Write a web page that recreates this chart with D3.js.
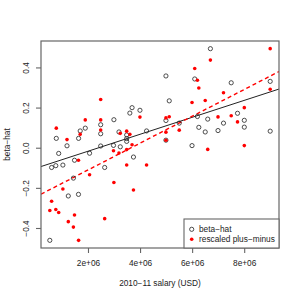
<!DOCTYPE html>
<html><head><meta charset="utf-8">
<script src="https://cdn.jsdelivr.net/npm/d3@7"></script>
<style>body{margin:0;background:#fff}svg{display:block}text{font-family:"Liberation Sans",Arial,sans-serif;fill:#222}</style>
</head><body><svg id="c" width="300" height="300"></svg>
<script>
// salary in millions USD
const salary = [0.534,0.603,0.764,0.783,0.875,1.036,1.194,1.244,1.440,1.482,1.635,1.639,1.701,1.896,2.061,2.488,2.488,2.488,2.641,2.980,2.995,3.190,3.240,3.486,3.486,3.486,3.608,3.693,3.747,3.996,4.250,4.994,4.994,4.994,5.121,5.505,5.996,6.100,6.203,6.257,6.503,6.599,6.702,6.994,7.205,7.501,7.743,8.004,8.004,8.998,8.998];
const betaHat = [-0.459,-0.096,-0.087,0.049,-0.026,-0.084,0.012,-0.238,-0.149,-0.060,-0.230,0.049,0.086,0.100,-0.025,0.117,0.072,0.011,-0.096,0.014,0.142,0.081,0.007,0.066,0.048,0.034,0.175,0.202,-0.044,0.189,0.086,0.360,0.138,0.040,0.236,0.125,0.013,0.345,0.158,0.104,0.081,0.145,0.496,0.088,0.125,0.326,0.174,0.139,0.105,0.333,0.085];
const plusMinus = [-0.310,-0.264,-0.305,0.100,-0.320,-0.203,0.043,-0.366,-0.393,-0.333,-0.060,-0.459,0.069,0.141,-0.132,0.243,0.141,0.091,-0.351,-0.013,-0.171,-0.024,0.074,0.085,-0.007,-0.084,0.069,0.017,-0.208,0.155,-0.084,0.151,0.080,0.040,0.157,0.090,0.228,0.397,0.339,0.300,0.238,-0.006,0.439,0.156,0.276,0.162,0.131,0.202,0.013,0.496,0.294];
const xTicks = [2e6,4e6,6e6,8e6];
const xTickLabels = ["2e+06","4e+06","6e+06","8e+06"];
const yTicks = [-0.4,-0.2,0,0.2,0.4];
const yTickLabels = ["\u22120.4","\u22120.2","0.0","0.2","0.4"];
const seriesNames = ["beta\u2212hat","rescaled plus\u2212minus"];

const svg = d3.select("#c");
const L=41,R=279,T=41,B=248;
const xs = salary.map(d=>d*1e6);
function pad(ext){const s=ext[1]-ext[0];return [ext[0]-0.04*s,ext[1]+0.04*s];}
const x = d3.scaleLinear().domain(pad(d3.extent(xs))).range([L,R]);
const yAll = betaHat.concat(plusMinus);
const y = d3.scaleLinear().domain(pad(d3.extent(yAll))).range([B,T]);

function fit(xv,yv){const mx=d3.mean(xv),my=d3.mean(yv);let sxy=0,sxx=0;xv.forEach((v,i)=>{sxy+=(v-mx)*(yv[i]-my);sxx+=(v-mx)*(v-mx);});const b=sxy/sxx;return {a:my-b*mx,b};}
const defs = svg.append("defs");
defs.append("clipPath").attr("id","clip").append("rect").attr("x",L).attr("y",T).attr("width",R-L).attr("height",B-T);
const g = svg.append("g").attr("clip-path","url(#clip)");
const x0=x.domain()[0],x1=x.domain()[1];
const f1=fit(xs,betaHat), f2=fit(xs,plusMinus);
g.append("line").attr("x1",x(x0)).attr("x2",x(x1)).attr("y1",y(f1.a+f1.b*x0)).attr("y2",y(f1.a+f1.b*x1)).attr("stroke","#222").attr("stroke-width",1);
g.append("line").attr("x1",x(x0)).attr("x2",x(x1)).attr("y1",y(f2.a+f2.b*x0)).attr("y2",y(f2.a+f2.b*x1)).attr("stroke","#ff0000").attr("stroke-width",1.4).attr("stroke-dasharray","4,3");

svg.append("g").selectAll("circle").data(xs).join("circle")
 .attr("cx",(d)=>x(d)).attr("cy",(d,i)=>y(betaHat[i])).attr("r",2.1).attr("fill","none").attr("stroke","#222").attr("stroke-width",0.8);
svg.append("g").selectAll("circle").data(xs).join("circle")
 .attr("cx",(d)=>x(d)).attr("cy",(d,i)=>y(plusMinus[i])).attr("r",1.8).attr("fill","#ff0000");

// box
svg.append("rect").attr("x",L).attr("y",T).attr("width",R-L).attr("height",B-T).attr("fill","none").attr("stroke","#666").attr("stroke-width",1.2);
// axes
const xa = svg.append("g").attr("transform",`translate(0,${B})`).call(d3.axisBottom(x).tickValues(xTicks).tickSize(5).tickFormat((d,i)=>xTickLabels[i]));
const ya = svg.append("g").attr("transform",`translate(${L},0)`).call(d3.axisLeft(y).tickValues(yTicks).tickSize(5).tickFormat((d,i)=>yTickLabels[i]));
[xa,ya].forEach(a=>{a.select(".domain").remove();a.selectAll("line").attr("stroke","#666").attr("stroke-width",1.1);a.selectAll("text").style("font-size","8.3px").attr("fill","#222");});
xa.selectAll("text").attr("y",12);
ya.selectAll("text").attr("x",null).attr("dy",null).attr("text-anchor","middle").attr("dominant-baseline","central")
  .attr("transform",d=>`translate(-15,${y(d)}) rotate(-90)`).attr("y",0);
ya.selectAll(".tick").attr("transform",null);
ya.selectAll(".tick line").attr("y1",d=>y(d)).attr("y2",d=>y(d));

svg.append("text").attr("x",(L+R)/2).attr("y",283).attr("text-anchor","middle").attr("dominant-baseline","central").style("font-size","8.3px").text("2010\u221211 salary (USD)");
svg.append("text").attr("transform",`translate(7,${(T+B)/2}) rotate(-90)`).attr("text-anchor","middle").attr("dominant-baseline","central").style("font-size","8.3px").text("beta\u2212hat");

// legend
const lg = svg.append("g");
lg.append("rect").attr("x",184).attr("y",219).attr("width",R-184).attr("height",B-219).attr("fill","#fff").attr("stroke","#666").attr("stroke-width",1.1);
lg.append("circle").attr("cx",191.7).attr("cy",229.3).attr("r",2.1).attr("fill","none").attr("stroke","#222").attr("stroke-width",0.8);
lg.append("circle").attr("cx",191.7).attr("cy",239.3).attr("r",1.8).attr("fill","#ff0000");
lg.selectAll("text.lt").data(seriesNames).join("text").attr("class","lt").attr("x",199).attr("y",(d,i)=>229.3+i*10).attr("dominant-baseline","central").style("font-size","8.3px").text(d=>d);
</script></body></html>
